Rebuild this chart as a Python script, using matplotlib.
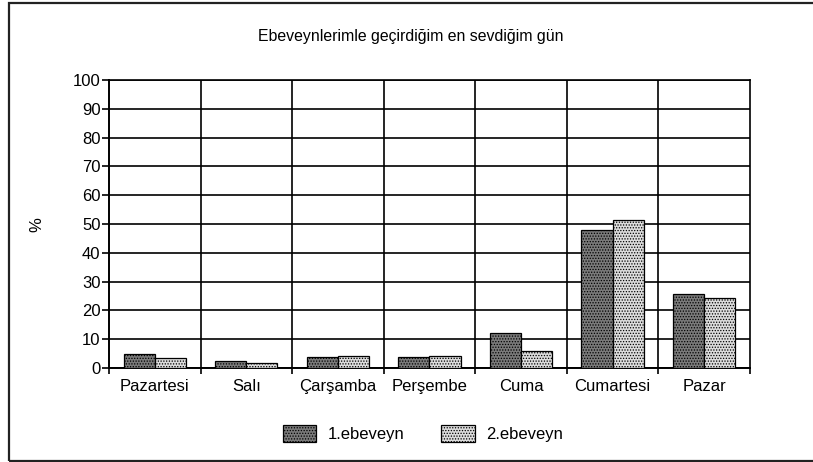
import matplotlib.pyplot as plt
import numpy as np
from matplotlib.patches import Rectangle

plt.rcParams['font.family'] = ['Liberation Sans', 'DejaVu Sans']
plt.rcParams['hatch.linewidth'] = 0.6

days = ['Pazartesi', 'Salı', 'Çarşamba', 'Perşembe', 'Cuma', 'Cumartesi', 'Pazar']
parent1 = [5, 2.4, 3.8, 3.8, 12, 48, 25.7]
parent2 = [3.3, 1.7, 4.3, 4.3, 5.8, 51.3, 24.2]
yticks = list(range(0, 101, 10))

fig = plt.figure(figsize=(8.13, 4.62), dpi=100)
ax = fig.add_axes([0.134, 0.2035, 0.7885, 0.6234])

# outer frame
fig.patches.append(Rectangle((9 / 813, 1 / 462), 1.0, 458 / 462, transform=fig.transFigure,
                             fill=False, edgecolor='#222222', linewidth=1.6))

x = np.arange(len(days))
w = 0.34
ax.bar(x - w / 2, parent1, w, facecolor='#7a7a7a', edgecolor='black', hatch='......',
       linewidth=0.9, label='1.ebeveyn', zorder=3)
ax.bar(x + w / 2, parent2, w, facecolor='#dcdcdc', edgecolor='black', hatch='......',
       linewidth=0.9, label='2.ebeveyn', zorder=3)

ax.set_xlim(-0.5, len(days) - 0.5)
ax.set_ylim(0, 100)
ax.set_yticks(yticks)
ax.set_yticklabels([str(t) for t in yticks], fontsize=12)
ax.set_xticks(x)
ax.set_xticklabels(days, fontsize=12)
ax.tick_params(axis='x', length=0, pad=8)
ax.tick_params(axis='y', length=5, width=1.2, direction='out', pad=1)
ax.set_xticks(np.arange(-0.5, len(days) + 0.5, 1), minor=True)
ax.tick_params(axis='x', which='minor', length=4, width=1.2, direction='out')

ax.grid(axis='y', color='black', linewidth=1.2, zorder=0)
for xb in np.arange(0.5, len(days) - 0.5, 1):
    ax.axvline(xb, color='black', linewidth=1.2, zorder=0)

for side in ['top', 'right']:
    ax.spines[side].set_linewidth(1.2)
ax.spines['left'].set_linewidth(1.4)
ax.spines['bottom'].set_linewidth(1.4)

fig.text(37 / 813, 1 - 225 / 462, '%', fontsize=12, rotation=90, ha='center', va='center')
fig.text(411 / 813, 1 - 36 / 462, 'Ebeveynlerimle geçirdiğim en sevdiğim gün', fontsize=11.4,
         ha='center', va='center')

ax.legend(loc='center', bbox_to_anchor=(0.49, -0.227), ncol=2, frameon=False, fontsize=12,
          handlelength=2.0, handleheight=1.2, columnspacing=2.2, handletextpad=0.7)

fig.savefig('out.png', dpi=100)
